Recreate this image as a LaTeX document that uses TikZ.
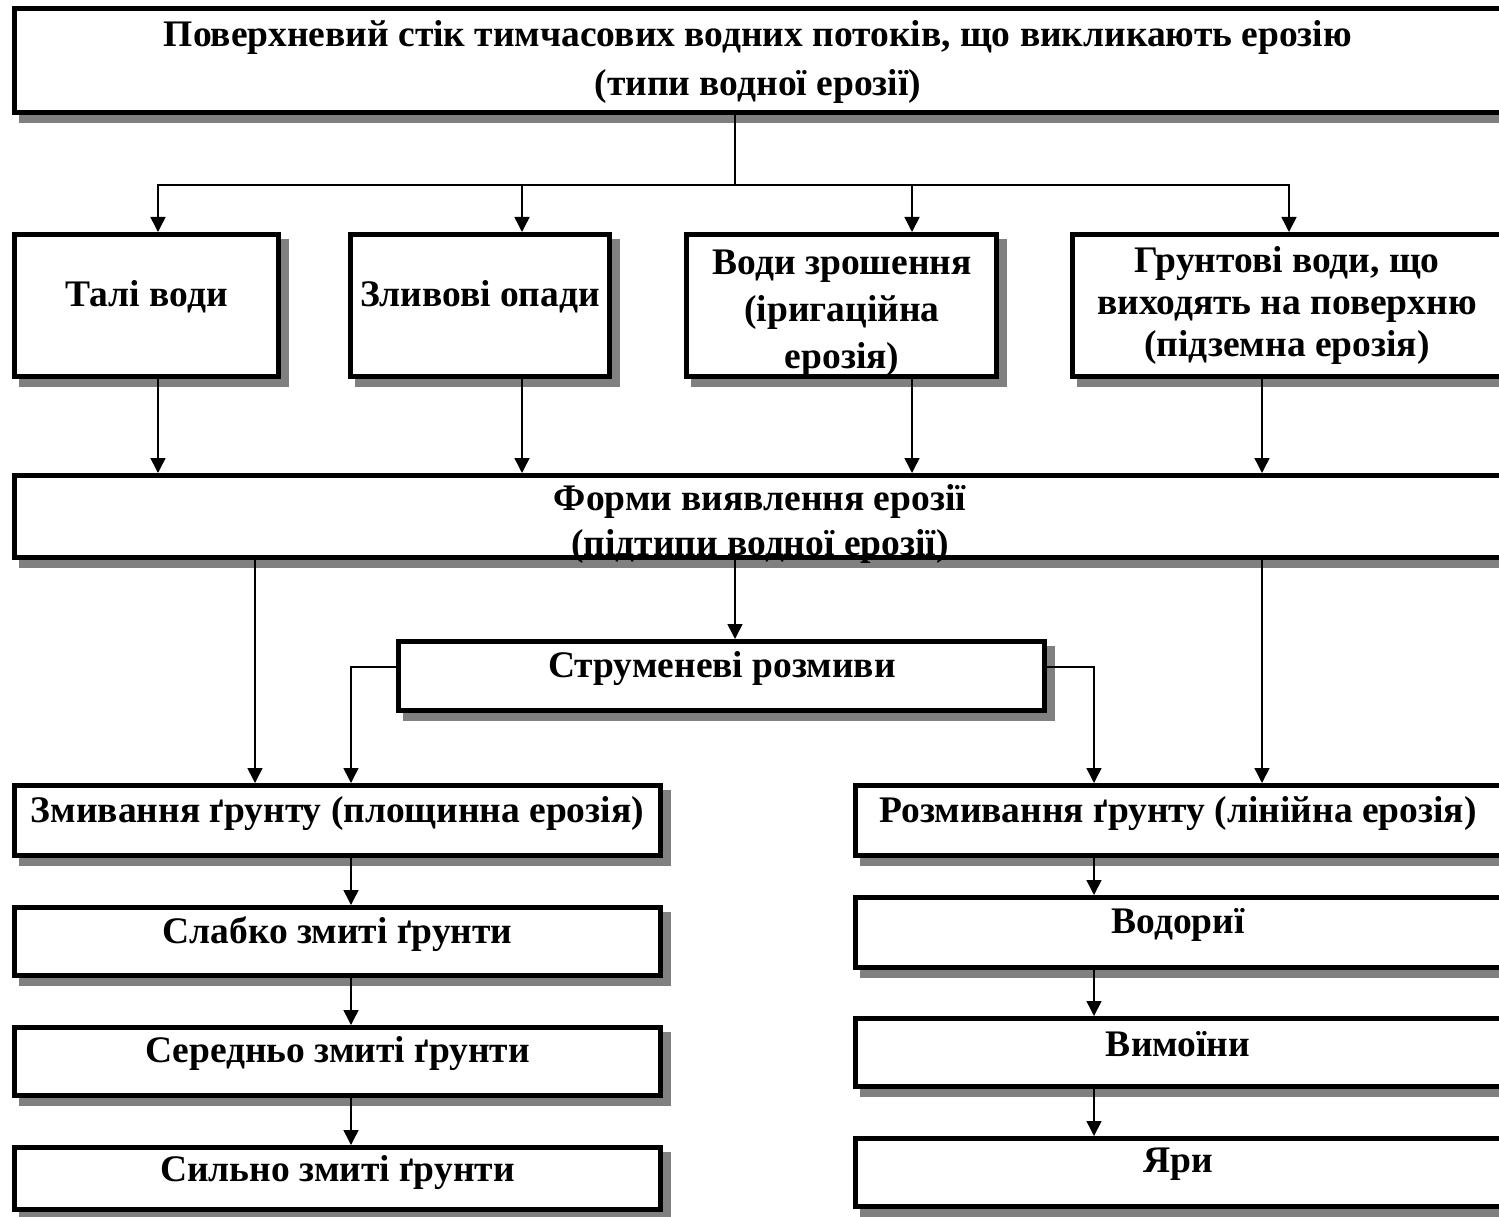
\documentclass[tikz,border=0pt]{standalone}
\usepackage{fontspec}
\setmainfont{Liberation Serif}
\usetikzlibrary{arrows.meta,backgrounds}
\definecolor{shadowc}{HTML}{808080}
\tikzset{
  box/.style={draw=black, line width=5pt, fill=white, rectangle, inner sep=0pt},
  txt/.style={font=\fontsize{37.5}{#1}\selectfont\bfseries, align=center, inner sep=0pt},
  txt/.default=46,
  arr/.style={line width=1.5pt, -{Triangle[width=15pt,length=15pt]}},
  ln/.style={line width=1.5pt},
}
\begin{document}
\begin{tikzpicture}[x=1pt,y=-1pt]
\useasboundingbox (0,0) rectangle (1499,1217);
\clip (0,0) rectangle (1499,1217);
% boxes (outer size minus line width)
\node[box, minimum width=1487pt, minimum height=104pt] (top)   at (758,60.5) {};
\node[box, minimum width=264pt,  minimum height=142pt] (tali)  at (146.5,305.5) {};
\node[box, minimum width=259pt,  minimum height=142pt] (zlyv)  at (480,305.5) {};
\node[box, minimum width=310pt,  minimum height=142pt] (vody)  at (841.5,305.5) {};
\node[box, minimum width=429pt,  minimum height=142pt] (grunt) at (1287,305.5) {};
\node[box, minimum width=1487pt, minimum height=82pt]  (forms) at (758,516.5) {};
\node[box, minimum width=646pt,  minimum height=69pt]  (strum) at (721.5,676) {};
\node[box, minimum width=646pt,  minimum height=70pt]  (zmyv)  at (337.5,820.5) {};
\node[box, minimum width=646pt,  minimum height=70pt]  (rozm)  at (1178.5,820.5) {};
\node[box, minimum width=646pt,  minimum height=68pt]  (slab)  at (337.5,941.5) {};
\node[box, minimum width=646pt,  minimum height=68pt]  (sered) at (337.5,1061.5) {};
\node[box, minimum width=646pt,  minimum height=62pt]  (sylno) at (337.5,1178.5) {};
\node[box, minimum width=646pt,  minimum height=70pt]  (vodor) at (1178.5,932.5) {};
\node[box, minimum width=646pt,  minimum height=68pt]  (vymo)  at (1178.5,1052.5) {};
\node[box, minimum width=646pt,  minimum height=68pt]  (yary)  at (1178.5,1172.5) {};
% shadows
\begin{scope}[on background layer]
  \fill[white] (0,0) rectangle (1499,1217);
  \foreach \n in {top,tali,zlyv,vody,grunt,forms,strum,zmyv,rozm,slab,sered,sylno,vodor,vymo,yary}
    \fill[shadowc] ([shift={(7,7)}]\n.north west) rectangle ([shift={(8,8)}]\n.south east);
\end{scope}
% texts
\node[txt=49] (top-t)   at (758,62)   {Поверхневий стік тимчасових водних потоків, що викликають ерозію\\(типи водної ерозії)};
\node[txt]    (tali-t)  at (146.5,297) {Талі води};
\node[txt]    (zlyv-t)  at (480,297)  {Зливові опади};
\node[txt=47] (vody-t)  at (842,313)  {Води зрошення\\(іригаційна\\ерозія)};
\node[txt=42] (grunt-t) at (1287,305) {Грунтові води, що\\виходять на поверхню\\(підземна ерозія)};
\node[txt=45] (forms-t) at (760,524)  {Форми виявлення ерозії\\(підтипи водної ерозії)};
\node[txt]    (strum-t) at (722,669)  {Струменеві розмиви};
\node[txt]    (zmyv-t)  at (337.5,814) {Змивання ґрунту (площинна ерозія)};
\node[txt]    (rozm-t)  at (1178,814) {Розмивання ґрунту (лінійна ерозія)};
\node[txt]    (slab-t)  at (337.5,934) {Слабко змиті ґрунти};
\node[txt]    (sered-t) at (337.5,1054) {Середньо змиті ґрунти};
\node[txt]    (sylno-t) at (337.5,1173) {Сильно змиті ґрунти};
\node[txt]    (vodor-t) at (1178,925) {Водориї};
\node[txt]    (vymo-t)  at (1178,1044) {Вимоїни};
\node[txt]    (yary-t)  at (1178,1164) {Яри};
% connectors: top -> row 2
\coordinate (bus) at ([xshift=-23pt,yshift=-70pt]top.south);
\draw[ln] ([xshift=-23pt]top.south) -- (bus);
\draw[arr] (bus) -| ([xshift=11.5pt]tali.north);
\draw[arr] (bus) -| ([xshift=42pt]zlyv.north);
\draw[arr] (bus) -| ([xshift=70.5pt]vody.north);
\draw[arr] (bus) -| ([xshift=2pt]grunt.north);
% row 2 -> forms
\coordinate (a1) at ([xshift=11.5pt]tali.south);
\coordinate (a2) at ([xshift=42pt]zlyv.south);
\coordinate (a3) at ([xshift=70.5pt]vody.south);
\coordinate (a4) at ([xshift=-25pt]grunt.south);
\draw[arr] (a1) -- (a1 |- forms.north);
\draw[arr] (a2) -- (a2 |- forms.north);
\draw[arr] (a3) -- (a3 |- forms.north);
\draw[arr] (a4) -- (a4 |- forms.north);
% forms -> below
\coordinate (b1) at ([xshift=-503pt]forms.south);
\coordinate (b2) at ([xshift=-23pt]forms.south);
\coordinate (b3) at ([xshift=504pt]forms.south);
\draw[arr] (b1) -- (b1 |- zmyv.north);
\draw[arr] (b2) -- (b2 |- strum.north);
\draw[arr] (b3) -- (b3 |- rozm.north);
% strum branches
\draw[arr] ([yshift=9pt]strum.west) -| ([xshift=13.5pt]zmyv.north);
\draw[arr] ([yshift=9pt]strum.east) -| ([xshift=-84.5pt]rozm.north);
% chains
\draw[arr] ([xshift=13.5pt]zmyv.south)  -- ([xshift=13.5pt]slab.north);
\draw[arr] ([xshift=13.5pt]slab.south)  -- ([xshift=13.5pt]sered.north);
\draw[arr] ([xshift=13.5pt]sered.south) -- ([xshift=13.5pt]sylno.north);
\draw[arr] ([xshift=-84.5pt]rozm.south)  -- ([xshift=-84.5pt]vodor.north);
\draw[arr] ([xshift=-84.5pt]vodor.south) -- ([xshift=-84.5pt]vymo.north);
\draw[arr] ([xshift=-84.5pt]vymo.south)  -- ([xshift=-84.5pt]yary.north);
\end{tikzpicture}
\end{document}
